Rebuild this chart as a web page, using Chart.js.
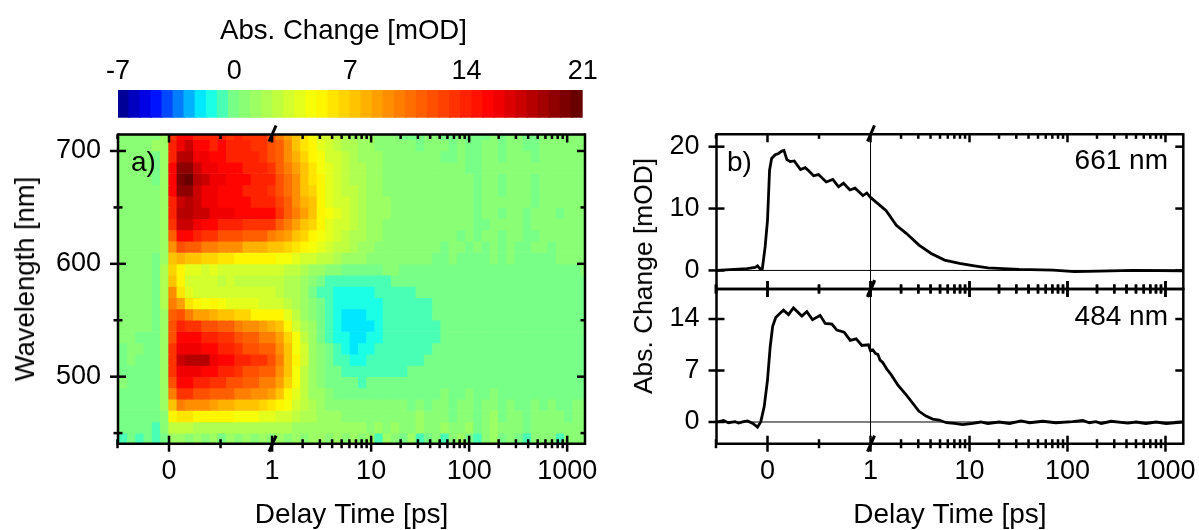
<!DOCTYPE html>
<html>
<head>
<meta charset="utf-8">
<script src="https://cdn.jsdelivr.net/npm/chart.js@4"></script>
<style>
    html, body { margin: 0; padding: 0; background: #fff; width: 1199px; height: 530px; overflow: hidden; }
    canvas { position: absolute; left: 0; top: 0; pointer-events: none; }
    .note { position: absolute; font: 28px "Liberation Sans", Arial, sans-serif; color: #000; white-space: nowrap; line-height: 30px; }
</style>
</head>
<body>
<canvas id="barChart" width="1199" height="530"></canvas>
<canvas id="heatChart" width="1199" height="530"></canvas>
<canvas id="topChart" width="1199" height="530"></canvas>
<canvas id="lowChart" width="1199" height="530"></canvas>
<div class="note" style="left:131px;top:147px">a)</div>
<div class="note" style="left:727px;top:147px">b)</div>
<div class="note" style="right:31px;top:145px">661 nm</div>
<div class="note" style="right:31px;top:301px">484 nm</div>
<div class="note" style="left:343.5px;top:30px;font-size:27.6px;transform:translate(-50%,-50%)">Abs. Change [mOD]</div>
<div class="note" style="left:25px;top:279px;font-size:27.4px;transform:translate(-50%,-50%) rotate(-90deg)">Wavelength [nm]</div>
<div class="note" style="left:643px;top:276px;font-size:26.4px;transform:translate(-50%,-50%) rotate(-90deg)">Abs. Change [mOD]</div>
<script>
// delay times of the heatmap columns [ps]
var delays = [-0.52,-0.44,-0.36,-0.28,-0.2,-0.12,-0.04,0.04,0.12,0.2,0.28,0.36,0.44,0.52,0.6,0.68,0.76,0.84,0.92,1,
    1.185,1.438,1.745,2.118,2.57,3.12,3.786,4.596,5.578,6.769,8.215,9.97,12.1,14.69,17.82,21.63,26.26,31.87,38.67,46.94,
    56.97,69.1,83.9,101.8,123.6,150,182,221,268,325,395,479,582,706,857,1040,1262,1532];

// wavelengths of the heatmap rows [nm]
var wavelengths = [715,705,695,685,675,665,655,645,635,625,615,605,595,585,575,565,555,545,535,525,515,505,495,485,475,465,455,445];

// absorption change [mOD], one row per wavelength
var heat = [
[.6,.6,.6,.6,.7,.8,1.2,13,15,15,14,14,14,14,13,14,13,13,13,12,10,8.5,7,6,4.5,3.5,3,2.5,2,1.5,1.2,1,.8,.7,.5,.3,.3,.1,.5,.5,.3,.2,.4,.2,.1,.3,.4,.1,.5,.7,.3,.2,.4,.5,.6,.6,.7,.7],
[.6,.6,.6,.6,.8,1.5,1.6,14,16,17,15,15,14,15,14,14,14,13,13,12,11,9,7.5,6,5,4,3,2.7,2.3,2,1.5,1.2,.8,.7,.6,.4,.5,.3,.5,.6,.4,.2,.4,.1,.2,.4,.5,.2,.6,.8,.3,.2,.5,.6,.5,.7,.7,.7],
[.5,.6,.6,.6,.7,.3,1.4,14,18,18,16,16,15,15,14,14,14,14,13,12,11,9.5,8,6.5,5.5,4.5,3.5,3,2.5,2,1.6,1.3,1,.8,.6,.5,.5,.4,.5,.6,.3,.3,.5,.2,.3,.5,.4,.3,.6,.7,.4,.3,.5,.5,.5,.6,.7,.6],
[.4,.6,.6,.6,.6,-.2,1.2,15,19,19,17,16,16,15,15,15,14,14,14,13,11.5,10,8.5,7,6,4.5,3.7,3,2.6,2.2,1.8,1.4,1,.9,.7,.6,.6,.5,.6,.5,.4,.4,.5,.3,.3,.4,.5,.4,.5,.6,.5,.4,.4,.6,.5,.6,.6,.6],
[.5,.6,.6,.6,.6,.2,1.2,15,20,21,18,17,16,16,15,15,15,14,14,14,12,10.5,9,7.5,6,5,4,3.2,2.8,2.3,1.8,1.4,1.1,.9,.8,.7,.6,.6,.6,.6,.5,.4,.6,.4,.2,.5,.6,.3,.6,.6,.4,.3,.5,.6,.4,.7,.6,.5],
[.5,.6,.6,.6,.6,.4,1.2,15,19,19,17,16,16,15,15,15,14,14,14,13,12,10.5,9,7.5,6.5,5,4,3.4,2.9,2.4,1.9,1.5,1.1,.9,.8,.7,.7,.6,.7,.6,.5,.5,.6,.5,.3,.5,.7,.3,.5,.7,.4,.3,.6,.5,.5,.6,.6,.6],
[.5,.6,.6,.6,.6,.5,1.2,14,17,18,17,16,16,15,15,15,15,14,14,14,12.5,11,9.5,8,7,5.3,4.2,3.6,3,2.5,2,1.6,1.2,1,.9,.8,.7,.7,.7,.6,.6,.6,.5,.5,.2,.5,.7,.4,.6,.6,.5,.3,.6,.6,.4,.6,.7,.6],
[.5,.6,.6,.6,.6,.6,1.2,14,18,18,17,17,16,16,16,15,15,15,15,15,13,11.5,10,8.5,7.5,5.5,4.4,3.8,3.2,2.6,2,1.6,1.2,1,.9,.8,.7,.7,.7,.6,.6,.6,.4,.6,.3,.4,.7,.3,.6,.7,.3,.4,.6,.5,.3,.6,.6,.7],
[.5,.6,.6,.6,.6,.7,1.2,13,17,17,16,15,15,14,14,14,13,13,13,13,11.5,10,8.5,7.5,6.5,5,4.2,3.6,3,2.5,2,1.5,1.1,.9,.8,.7,.7,.6,.7,.6,.5,.6,.5,.6,.3,.3,.7,.4,.5,.6,.2,.4,.6,.4,.4,.6,.7,.6],
[.5,.6,.6,.6,.6,.8,1.2,11,15,15,14,13,13,12,12,12,11,11,11,10,9.5,8.5,7.5,6.5,5.5,4.7,3.8,3.3,2.8,2.3,1.8,1.3,1,.8,.7,.6,.6,.6,.6,.6,.4,.6,.3,.6,.3,.4,.6,.2,.7,.5,.3,.3,.5,.4,.4,.5,.6,.6],
[.4,.5,.6,.6,.6,.5,1.2,9,12,11,11,10,10,9,9,9,8,8,8,7.5,7,6.5,6,5.5,4.6,3.8,3.2,2.8,2.4,1.9,1.5,1,.8,.7,.6,.6,.5,.5,.5,.5,.3,.5,.4,.3,.4,.2,.6,.2,.6,.3,.3,.4,.4,.3,.5,.6,.5,.5],
[.5,.5,.5,.6,.6,-.2,1.5,7,8,7.5,7,6.5,6.5,6,6,5.5,5.5,5,5,5,4.8,4.4,4,3.5,3.2,2.8,2.4,2,1.6,1.3,1,.8,.6,.5,.5,.5,.4,.4,.4,.3,.2,.4,.2,.1,.3,.2,.5,.1,.5,.2,.3,.3,.2,.2,.4,.5,.4,.5],
[.5,.5,.5,.5,.5,.2,2,6.5,5,4,4,3.5,4,3.5,3.5,3,3.5,3,3,3,3,2.7,2.4,2.2,1.6,1.2,.8,.5,.2,.1,.2,.3,.3,.4,.4,.3,.3,.3,.2,.2,.1,.3,.1,.1,.2,.1,.3,0,.3,.1,.2,.3,.1,.1,.3,.3,.3,.4],
[.5,.5,.5,.5,.5,.3,2,7,5,3.5,3,3,3,2.7,3,2.7,2.7,2.7,2.7,2.7,2.5,2.2,1.8,1.2,.5,-.3,-.7,-1,-1,-1,-.9,-.8,-.6,-.5,-.3,-.2,-.1,-.1,0,0,-.1,.1,0,.1,-.1,0,.2,0,.2,.1,.1,.2,0,.1,.1,.2,.2,.2],
[.5,.5,.4,.5,.5,.2,2,9,6,4,3.5,3,3.5,3,3,3,3,3,3,3,2.7,2.3,1.8,1,.3,-.5,-1,-1.3,-1.4,-1.4,-1.3,-1.2,-.9,-.8,-.7,-.6,-.4,-.3,-.3,-.2,-.2,-.1,-.1,-.1,-.2,-.2,0,-.1,.1,-.1,-.1,0,-.1,-.1,0,.1,0,0],
[.5,.5,.4,.5,.4,.1,2,10,8.5,6,5,4.5,5,4.5,4,4,4,4,3.5,3.5,3,2.5,2,1.2,.4,-.3,-.9,-1.3,-1.6,-1.6,-1.6,-1.4,-1.1,-.9,-.8,-.7,-.6,-.4,-.4,-.3,-.3,-.2,-.2,-.2,-.3,-.2,-.1,-.2,0,-.1,-.2,-.1,-.2,-.2,-.1,0,-.1,-.1],
[.5,.5,.5,.5,.4,0,1.5,11,12,10,8.5,8.5,8,7.5,7.5,6.5,6.5,5.5,5.5,5.5,5,3.8,2.6,1.5,.6,-.2,-.8,-1.3,-1.7,-1.8,-1.8,-1.6,-1.2,-.9,-.8,-.7,-.6,-.5,-.5,-.3,-.3,-.3,-.3,-.2,-.3,-.3,-.2,-.2,-.2,-.2,-.2,-.2,-.2,-.2,-.2,-.2,-.2,-.2],
[.5,.4,.5,.4,.4,0,1.2,12,14,13,13,12,12,11,11,10,9,9,8.5,8,7,5.5,3.5,2.2,1,.1,-.6,-1.2,-1.7,-2,-1.9,-1.7,-1.2,-.9,-.8,-.7,-.6,-.5,-.5,-.4,-.3,-.3,-.3,-.3,-.3,-.3,-.3,-.3,-.3,-.3,-.3,-.3,-.3,-.3,-.3,-.3,-.3,-.3],
[.5,.4,.4,.3,.3,-.1,1.2,12,15,15,15,14,14,13,13,12,11,11,10,10,8.5,6.5,4.5,2.7,1.3,.2,-.5,-1.1,-1.6,-1.9,-1.8,-1.5,-1.1,-.9,-.8,-.7,-.6,-.5,-.4,-.4,-.3,-.3,-.3,-.3,-.3,-.3,-.3,-.3,-.3,-.3,-.3,-.3,-.3,-.3,-.3,-.3,-.3,-.3],
[.5,.3,.4,.4,.3,-.2,1.2,13,16,16,16,15,15,14,14,13,12,12,11,11,9,7,4.8,3,1.5,.4,-.3,-.9,-1.4,-1.7,-1.6,-1.3,-1,-.9,-.8,-.6,-.5,-.4,-.4,-.3,-.3,-.3,-.3,-.3,-.3,-.3,-.3,-.3,-.3,-.3,-.3,-.3,-.3,-.3,-.3,-.3,-.3,-.3],
[.4,.3,.4,.3,.3,-.2,1.2,13,17,18,18,18,16,15,15,14,14,13,13,12,10,7.5,5,3,1.6,.5,-.1,-.6,-1,-1.3,-1.3,-1,-.9,-.7,-.6,-.5,-.4,-.4,-.3,-.3,-.3,-.3,-.2,-.3,-.3,-.3,-.2,-.2,-.3,-.3,-.2,-.3,-.3,-.3,-.3,-.2,-.3,-.3],
[.4,.3,.3,.3,.3,-.2,1.2,13,16,16,16,15,15,14,14,13,12,12,11,11,9,7,4.8,2.9,1.6,.6,.1,-.3,-.6,-.8,-.9,-.7,-.6,-.5,-.4,-.4,-.3,-.3,-.2,-.2,-.2,-.2,-.2,-.2,-.2,-.2,-.2,-.1,-.2,-.2,-.2,-.2,-.2,-.2,-.2,-.2,-.2,-.2],
[.3,.4,.3,.3,.2,-.3,1.2,12,15,15,14,14,13,13,12,12,11,11,10,10,8.5,6.5,4.5,2.7,1.6,.7,.3,0,-.2,-.3,-.4,-.3,-.3,-.2,-.2,-.1,-.1,-.1,0,-.1,0,0,-.1,.1,-.1,0,.1,-.1,0,0,-.1,-.1,0,0,-.1,0,-.1,0],
[.2,.3,.3,.2,.2,-.2,1.2,10,13,13,12,12,11,11,11,10,10,9.5,9,8.5,7.5,5.5,4,2.5,1.6,1,.6,.3,.2,.1,.1,.1,.2,.1,.2,.1,.1,.3,.1,.2,.4,.1,.2,.4,.1,.3,.5,.1,.3,.2,.1,.2,.2,.3,.2,.1,.3,.2],
[.3,.1,.3,.1,.1,-.3,1,7,10,9.5,9,9,8.5,8,8,7.5,7,7,6.5,6,5.5,4.5,3.3,2.5,1.8,1.2,.9,.7,.6,.5,.5,.5,.6,.5,.5,.4,.3,.7,.3,.5,.7,.2,.4,.7,.3,.6,.8,.2,.5,.3,.3,.6,.3,.4,.3,.2,.5,.4],
[.2,.2,.1,.2,0,-.3,.8,5,6,6,5.5,5,5,5,5,4.7,4.5,4.5,4,4,3.5,3,2.5,2.2,1.8,1.4,1.2,1,.9,.8,.8,.7,.8,.7,.9,.5,.5,1,.4,.7,.9,.3,.6,.9,.2,.8,1,.3,.7,.5,.3,.8,.4,.5,.4,.3,.6,.6],
[.1,0,-.1,.1,-.1,-.4,.5,2.5,2.7,2.5,2.3,2.3,2.2,2.2,2.1,2,2,1.9,1.8,1.8,1.7,1.7,1.6,1.5,1.4,1.3,1.2,1.1,1,1,1,.9,1,.8,1,.6,.6,1.1,.5,.9,1,.4,.7,1.1,.2,.9,1,.4,.8,.6,.3,.9,.5,.7,.5,.5,.7,.7],
[-.2,-.6,-.2,-.7,-.3,-.8,.3,1,1,.6,1,.5,1,.3,1,.6,1.2,.4,1,.6,1,.6,1.2,.8,1.2,1,.9,1.1,.5,1.1,.5,1,-.5,1,.7,.1,1,-.8,.3,.9,-.7,.6,1,.2,-.8,.9,1,-.3,.9,.3,-.5,.8,.5,.9,-.6,.8,.9,.9]
];

// colour bar
var barLevels = [-6.67,-6,-5.33,-4.67,-4,-3.33,-2.67,-2,-1.33,-0.67,0,0.67,1.33,2,2.67,3.33,4,4.67,5.33,6,6.67,7.33,8,8.67,9.33,10,10.67,11.33,12,12.67,13.33,14,14.67,15.33,16,16.67,17.33,18,18.67,19.33,20,20.67];
var barTicks = [-7,0,7,14,21];

// 661 nm trace
var timeTop = [-0.49,-0.2,-0.12,-0.097,-0.07,-0.05,-0.023,0,0.02,0.04,0.075,0.107,0.14,0.16,0.188,0.22,0.26,0.29,0.32,0.366,0.4,0.447,0.495,0.57,0.634,0.69,0.738,0.8,0.85,0.926,0.964,1,1.41,1.79,2.26,3.05,4.06,5.56,7.9,11.2,15.4,32,71,118,212,465,1500];
var valueTop = [0,0.3,0.5,0.75,0.2,0.3,3.8,8.1,16.2,18.1,18.7,18.9,19.3,19.4,17.9,17.6,17.7,17,16.3,16.6,16.1,15.3,15.5,14.3,14.7,13.5,14.1,13,13.3,12.1,12.5,11.8,9.65,7.3,6,4.1,2.75,1.67,1.13,0.75,0.43,0.16,0.05,-0.2,-0.1,0,-0.05];

// 484 nm trace
var timeLow = [-0.49,-0.427,-0.38,-0.314,-0.28,-0.233,-0.194,-0.142,-0.097,-0.065,-0.032,0,0.026,0.05,0.08,0.117,0.155,0.204,0.252,0.333,0.382,0.437,0.511,0.56,0.625,0.673,0.744,0.803,0.861,0.916,0.98,1,1.03,1.1,1.16,1.22,1.3,1.43,1.59,1.86,2.26,3.05,3.6,4.2,4.9,5.8,7,8.5,10.8,13,15.4,20,25.6,33.6,41,56,76,113,143,167,195,221,279,413,501,631,803,1016,1500];
var valueLow = [0,0.2,-0.1,0.05,-0.15,0.05,0.15,-0.2,-0.7,0.05,2.1,5.7,10.2,13,14.2,14.7,15.2,14.6,15.5,14.4,15,13.9,14.5,13.4,13.3,12.5,12.2,11.1,11.3,10.4,10.5,9.7,9.8,9.3,9.2,8.4,8.1,7.2,6.4,5,3.7,1.45,0.8,0.4,0.27,-0.1,-0.2,-0.35,-0.2,0,-0.2,0,-0.2,0.15,-0.1,0.1,-0.1,0.05,0.2,-0.1,0.05,-0.2,0.1,-0.15,0,-0.2,0,-0.2,0];

// broken time axis ticks
var timeMajor = [0,1,10,100,1000];
var timeMinor = [-0.5,0.5,2,3,4,5,6,7,8,9,20,30,40,50,60,70,80,90,200,300,400,500,600,700,800,900];

var FONT = '"Liberation Sans", Arial, sans-serif';
var AX_MIN = -0.495, AX_MAX = 4.036;

// linear up to 1 ps, log above
function toAxis(t) {
    return t <= 1 ? t : 1.01 + 0.951 * Math.log10(t);
}

var stops = [
    [-7, 0, 0, 130], [-4.9, 0, 0, 255], [-1.7, 0, 255, 255], [0, 120, 255, 135],
    [5, 255, 255, 0], [9.9, 255, 128, 0], [15.5, 255, 0, 0], [21, 95, 0, 0]
];

function colorFor(v) {
    // 42 flat colour levels like the contour plot
    var k = Math.min(41, Math.max(0, Math.floor((v + 7) / 28 * 42)));
    var c = -7 + (k + 0.5) * 28 / 42;
    for (var i = 1; i < stops.length; i++) {
        if (c <= stops[i][0]) {
            var a = stops[i - 1], b = stops[i];
            var f = (c - a[0]) / (b[0] - a[0]);
            return 'rgb(' + [1, 2, 3].map(function (j) { return Math.round(a[j] + (b[j] - a[j]) * f); }).join(',') + ')';
        }
    }
    return 'rgb(95,0,0)';
}

// spines, inward/crossing ticks, break marks and reference lines
var framePlugin = {
    id: 'frame',
    afterDatasetsDraw: function (chart, args, opts) {
        var ctx = chart.ctx, a = chart.chartArea;
        var xs = chart.scales.x, ys = chart.scales.y;
        ctx.save();
        ctx.strokeStyle = '#000';

        function seg(x1, y1, x2, y2, w) {
            ctx.lineWidth = w;
            ctx.beginPath();
            ctx.moveTo(x1, y1);
            ctx.lineTo(x2, y2);
            ctx.stroke();
        }

        if (opts.refLines) {
            seg(a.left, ys.getPixelForValue(0), a.right, ys.getPixelForValue(0), 1);
            seg(xs.getPixelForValue(1), a.top, xs.getPixelForValue(1), a.bottom, 1);
        }
        seg(a.left, a.top, a.right, a.top, 2.5);
        seg(a.left, a.bottom, a.right, a.bottom, 2.5);
        seg(a.left, a.top - 1.2, a.left, a.bottom + 1.2, 2.5);
        seg(a.right, a.top - 1.2, a.right, a.bottom + 1.2, 2.5);

        function xTick(t, up, down) {
            var px = xs.getPixelForValue(toAxis(t));
            seg(px, a.top - (opts.topCross ? up : 0), px, a.top + (opts.topCross ? up : down), 2.5);
            seg(px, a.bottom - up, px, a.bottom + down, 2.5);
        }
        timeMajor.forEach(function (t) { xTick(t, 8, 8); });
        timeMinor.forEach(function (t) { xTick(t, 4.5, 4.5); });

        function yTick(v, len) {
            var py = ys.getPixelForValue(v);
            seg(a.left - len, py, a.left + len, py, 2.5);
            seg(a.right - len, py, a.right, py, 2.5);
        }
        opts.yMajor.forEach(function (v) { yTick(v, 8); });
        (opts.yMinor || []).forEach(function (v) { yTick(v, 4.5); });

        var bx = xs.getPixelForValue(1) + 0.5;
        [a.top - 1, a.bottom].forEach(function (py) {
            seg(bx + 3.5, py - 8, bx - 3.5, py + 8, 3);
        });
        ctx.restore();
    }
};

function timeScale(withLabels) {
    return {
        type: 'linear',
        min: AX_MIN,
        max: AX_MAX,
        offset: false,
        display: withLabels,
        grid: { display: false, drawTicks: false },
        border: { display: false },
        afterBuildTicks: function (scale) {
            scale.ticks = timeMajor.map(function (t) { return { value: toAxis(t) }; });
        },
        afterFit: function (scale) {
            scale.height = withLabels ? 86 : 0;
            // the 1000 label may overhang, the plot area must not shrink for it
            scale.paddingLeft = 0;
            scale.paddingRight = 0;
        },
        ticks: {
            autoSkip: false, maxRotation: 0, minRotation: 0, padding: 12, color: '#000',
            font: { family: FONT, size: 27 },
            callback: function (v, i) { return String(timeMajor[i]); }
        },
        title: { display: true, text: 'Delay Time [ps]', color: '#000', padding: { top: 0, bottom: -2 }, font: { family: FONT, size: 28 } }
    };
}

function valueScale(min, max, tickVals, width) {
    return {
        type: 'linear',
        min: min,
        max: max,
        grid: { display: false, drawTicks: false },
        border: { display: false },
        afterBuildTicks: function (scale) {
            scale.ticks = tickVals.map(function (v) { return { value: v }; });
        },
        afterFit: function (scale) {
            scale.width = width;
            scale.paddingTop = 0;
            scale.paddingBottom = 0;
        },
        ticks: {
            autoSkip: false, padding: 17, color: '#000',
            font: { family: FONT, size: 27 },
            callback: function (v) { return String(v); }
        }
    };
}

function baseOptions(padding, scales, frame) {
    return {
        responsive: false,
        animation: false,
        events: [],
        layout: { autoPadding: false, padding: padding },
        plugins: { legend: { display: false }, tooltip: { enabled: false }, frame: frame },
        scales: scales
    };
}

// Colour bar
new Chart(document.getElementById('barChart'), {
    type: 'bar',
    data: {
        datasets: [{
            data: barLevels.map(function (v) { return { x: v, y: 1 }; }),
            backgroundColor: barLevels.map(colorFor),
            barThickness: 12,
            borderWidth: 0
        }]
    },
    options: baseOptions({ left: 118, right: 1199 - 582.7, top: 13, bottom: 530 - 117.7 }, {
        x: {
            type: 'linear', position: 'top', min: -7, max: 21, offset: false,
            grid: { display: false, drawTicks: false },
            border: { display: false },
            afterBuildTicks: function (scale) {
                scale.ticks = barTicks.map(function (v) { return { value: v }; });
            },
            afterFit: function (scale) {
                scale.height = 77;
                scale.paddingLeft = 0;
                scale.paddingRight = 0;
            },
            ticks: {
                autoSkip: false, maxRotation: 0, minRotation: 0, padding: 2, color: '#000',
                font: { family: FONT, size: 27 },
                callback: function (v) { return String(v); }
            }
        },
        y: { display: false, min: 0, max: 1 }
    })
});

// a) Heatmap
new Chart(document.getElementById('heatChart'), {
    type: 'bar',
    data: {
        datasets: heat.map(function (row, r) {
            return {
                grouped: false,
                barThickness: 9,
                borderWidth: 0,
                data: delays.map(function (t) {
                    return { x: toAxis(t), y: [wavelengths[r] - 5, wavelengths[r] + 5] };
                }),
                backgroundColor: row.map(colorFor)
            };
        })
    },
    plugins: [framePlugin],
    options: baseOptions({ left: 8, right: 1199 - 585, top: 134.5, bottom: 0.3 }, {
        x: timeScale(true),
        y: valueScale(440.6, 714.6, [500, 600, 700], 110)
    }, { yMajor: [500, 600, 700], yMinor: [450, 550, 650] })
});

// b) upper trace
new Chart(document.getElementById('topChart'), {
    type: 'line',
    data: {
        datasets: [{
            data: timeTop.map(function (t, i) { return { x: toAxis(t), y: valueTop[i] }; }),
            borderColor: '#000', borderWidth: 2.8, pointRadius: 0, tension: 0
        }]
    },
    plugins: [framePlugin],
    options: baseOptions({ left: 716.5 - 60, right: 1199 - 1183.3, top: 134.3, bottom: 530 - 289 }, {
        x: timeScale(false),
        y: valueScale(-3, 22, [0, 10, 20], 60)
    }, { yMajor: [0, 10, 20], refLines: true })
});

// b) lower trace
new Chart(document.getElementById('lowChart'), {
    type: 'line',
    data: {
        datasets: [{
            data: timeLow.map(function (t, i) { return { x: toAxis(t), y: valueLow[i] }; }),
            borderColor: '#000', borderWidth: 2.8, pointRadius: 0, tension: 0
        }]
    },
    plugins: [framePlugin],
    options: baseOptions({ left: 716.5 - 60, right: 1199 - 1183.3, top: 289, bottom: 0.3 }, {
        x: timeScale(true),
        y: valueScale(-2.95, 18.08, [0, 7, 14], 60)
    }, { yMajor: [0, 7, 14], refLines: true, topCross: true })
});
</script>
</body>
</html>
